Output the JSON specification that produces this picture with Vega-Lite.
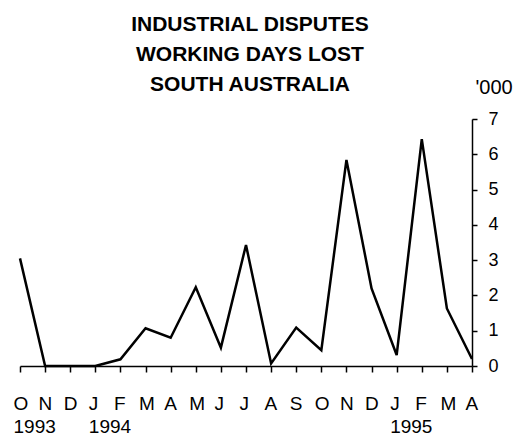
{
  "$schema": "https://vega.github.io/schema/vega-lite/v6.json",
  "width": 452,
  "height": 247,
  "autosize": "none",
  "padding": {"left": 20, "top": 119, "right": 43, "bottom": 71},
  "background": "white",
  "config": {"view": {"stroke": null}, "font": "Liberation Sans"},
  "title": {
    "text": ["INDUSTRIAL DISPUTES", "WORKING DAYS LOST", "SOUTH AUSTRALIA"],
    "fontSize": 21,
    "fontWeight": "bold",
    "font": "Liberation Sans",
    "lineHeight": 30,
    "anchor": "middle",
    "dx": 4,
    "offset": -18,
    "color": "black"
  },
  "data": {
    "values": [
      {"month": "1993-10", "days": 3.05},
      {"month": "1993-11", "days": 0},
      {"month": "1993-12", "days": 0},
      {"month": "1994-01", "days": 0},
      {"month": "1994-02", "days": 0.19},
      {"month": "1994-03", "days": 1.07},
      {"month": "1994-04", "days": 0.8},
      {"month": "1994-05", "days": 2.23},
      {"month": "1994-06", "days": 0.52},
      {"month": "1994-07", "days": 3.43},
      {"month": "1994-08", "days": 0.07},
      {"month": "1994-09", "days": 1.09},
      {"month": "1994-10", "days": 0.45},
      {"month": "1994-11", "days": 5.84},
      {"month": "1994-12", "days": 2.2},
      {"month": "1995-01", "days": 0.31},
      {"month": "1995-02", "days": 6.43},
      {"month": "1995-03", "days": 1.63},
      {"month": "1995-04", "days": 0.2}
    ]
  },
  "mark": {"type": "line", "color": "black", "strokeWidth": 2.5},
  "encoding": {
    "x": {
      "field": "month",
      "type": "ordinal",
      "scale": {"type": "point", "padding": 0},
      "axis": {
        "title": null,
        "grid": false,
        "labelAngle": 0,
        "labelAlign": "left",
        "labelOffset": -7,
        "labelBaseline": "top",
        "labelPadding": 22,
        "labelFontSize": 19,
        "labelLineHeight": 23,
        "labelColor": "black",
        "labelOverlap": false,
        "tickColor": "black",
        "tickSize": 6,
        "tickWidth": 1.5,
        "domainColor": "black",
        "domainWidth": 1.5,
        "labelExpr": "[substring('JFMAMJJASOND', toNumber(substring(datum.value, 5, 7)) - 1, toNumber(substring(datum.value, 5, 7))), indexof(['1993-10', '1994-01', '1995-01'], datum.value) >= 0 ? substring(datum.value, 0, 4) : '']"
      }
    },
    "y": {
      "field": "days",
      "type": "quantitative",
      "scale": {"domain": [0, 7], "nice": false},
      "axis": {
        "orient": "right",
        "values": [0, 1, 2, 3, 4, 5, 6, 7],
        "grid": false,
        "tickSize": 5,
        "tickWidth": 1.5,
        "tickColor": "black",
        "domainColor": "black",
        "domainWidth": 1.5,
        "labelPadding": 11,
        "labelFontSize": 18,
        "labelColor": "black",
        "title": "'000",
        "titleAngle": 0,
        "titleX": 3,
        "titleY": -26,
        "titleAlign": "left",
        "titleBaseline": "alphabetic",
        "titleFontSize": 20,
        "titleFontWeight": "normal",
        "titleColor": "black"
      }
    }
  }
}
